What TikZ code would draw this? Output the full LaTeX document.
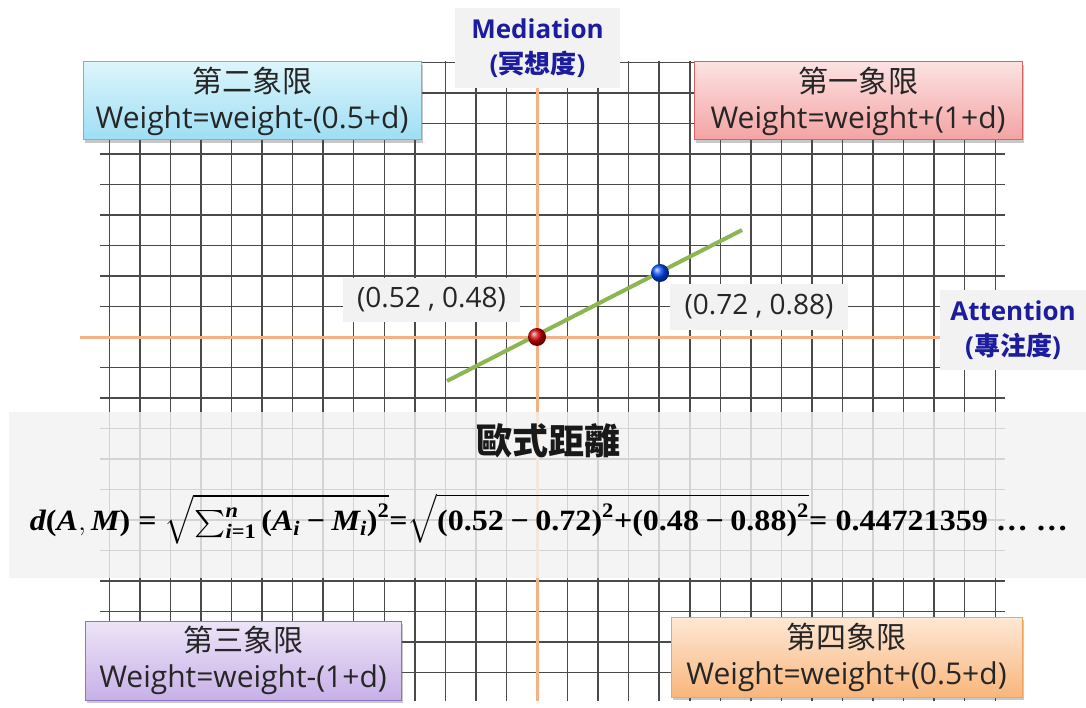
\documentclass[tikz,border=0pt]{standalone}
\usepackage{amsmath}
\usepackage{fontspec}
\setmainfont{Open Sans}
\newfontfamily\cjk{Noto Sans CJK TC}
\newfontfamily\fserif{Liberation Serif}
\usetikzlibrary{shadows}
\definecolor{gridc}{HTML}{4A4A4A}
\definecolor{axisc}{HTML}{F4B183}
\definecolor{greenc}{HTML}{8DB653}
\definecolor{navy}{HTML}{1C1C9E}
\definecolor{lgray}{HTML}{F2F2F2}
\definecolor{txt}{HTML}{262626}
\definecolor{qtwotop}{HTML}{DDF5FC}\definecolor{qtwobot}{HTML}{9EDEF4}\definecolor{qtwoline}{HTML}{5BBFDD}
\definecolor{qonetop}{HTML}{FCE2E2}\definecolor{qonebot}{HTML}{F4A3A3}\definecolor{qoneline}{HTML}{D9625F}
\definecolor{qthreetop}{HTML}{EDE4F8}\definecolor{qthreebot}{HTML}{C7B1E7}\definecolor{qthreeline}{HTML}{8F74C2}
\definecolor{qfourtop}{HTML}{FDE8D6}\definecolor{qfourbot}{HTML}{F9B67B}\definecolor{qfourline}{HTML}{F2A35E}
\newcommand{\bi}[1]{\text{\fserif\bfseries\itshape #1}}
\newcommand{\bn}[1]{\text{\fserif\bfseries #1}}
\newcommand{\bmin}{\mathbin{\bn{−}}}
\tikzset{
  gridline/.style={draw=gridc, line width=1.5pt},
  axisline/.style={draw=axisc, line width=3pt},
  quad/.style={draw, line width=1pt, inner sep=0pt, align=center, text=txt,
    font=\fontsize{30}{36}\selectfont,
    drop shadow={shadow xshift=2pt, shadow yshift=-3pt, opacity=0.3, fill=black!70}},
  axislabel/.style={fill=lgray, inner sep=0pt, align=center, text=navy,
    font=\fontsize{26}{35}\selectfont\bfseries},
  ptlabel/.style={fill=lgray, inner sep=0pt, text=txt, font=\fontsize{28}{30}\selectfont},
  pt/.style={circle, inner sep=0pt, minimum size=18pt}
}
\begin{document}
\begin{tikzpicture}[x=1pt,y=-1pt]
\useasboundingbox (0,0) rectangle (1086,708);
\fill[white] (0,0) rectangle (1086,708);
% grid
\foreach \k in {-14,...,15} \draw[gridline] ({537+30.55*\k},61) -- ({537+30.55*\k},701);
\foreach \j in {-9,...,11} \draw[gridline] (100,{337+30.5*\j}) -- (1005,{337+30.5*\j});
% axes
\coordinate (vtop) at (537,61);
\coordinate (vbot) at (537,701);
\coordinate (hleft) at (80,337);
\coordinate (hright) at (1000,337);
\draw[axisline] (vtop) -- (vbot);
\draw[axisline] (hleft) -- (hright);
% green line and points
\coordinate (gstart) at (447,381);
\coordinate (gend) at (742,230);
\draw[greenc, line width=4pt] (gstart) -- (gend);
\node[pt, ball color=red!85!black] (pa) at (537,337) {};
\node[pt, ball color=blue!70!cyan] (pm) at (660,273) {};
% point labels
\node[ptlabel, minimum width=177pt, minimum height=44pt] (la) at (431.5,300) {(0.52 , 0.48)};
\node[ptlabel, minimum width=178pt, minimum height=46pt] (lm) at (759,307) {(0.72 , 0.88)};
% axis labels
\node[axislabel, minimum width=165pt, minimum height=80pt] (med) at (537.5,48) {Mediation\\({\cjk\bfseries 冥想度})};
\node[axislabel, minimum width=146pt, minimum height=80pt] (att) at (1013,330) {Attention\\({\cjk\bfseries 專注度})};
% quadrant boxes
\node[quad, draw=qtwoline, top color=qtwotop, bottom color=qtwobot, minimum width=338pt, minimum height=78pt] (q2) at (252,101) {{\cjk 第二象限}\\Weight=weight-(0.5+d)};
\node[quad, draw=qoneline, top color=qonetop, bottom color=qonebot, minimum width=328pt, minimum height=78pt] (q1) at (858,101) {{\cjk 第一象限}\\Weight=weight+(1+d)};
\node[quad, draw=qthreeline, top color=qthreetop, bottom color=qthreebot, minimum width=316pt, minimum height=79pt] (q3) at (243,660.5) {{\cjk 第三象限}\\Weight=weight-(1+d)};
\node[quad, draw=qfourline, top color=qfourtop, bottom color=qfourbot, minimum width=351pt, minimum height=80pt] (q4) at (846.5,657) {{\cjk 第四象限}\\Weight=weight+(0.5+d)};
% formula band
\fill[lgray, opacity=0.82] (9,412) rectangle (1086,578);
\node[text=black!90, font=\cjk\bfseries\fontsize{36}{40}\selectfont] (title) at (548,441) {歐式距離};
\node[text=black, inner sep=0pt, font=\fontsize{27}{30}\selectfont] (formula) at (549,519) {\resizebox{1038pt}{37pt}{$\bi{d}\bn{(}\bi{A},\bi{M}\bn{)}\mathrel{\bn{=}}\sqrt{\textstyle\sum_{\bi{i}\bn{=1}}^{\bi{n}}\bn{(}\bi{A}_{\bi{i}}\bmin\bi{M}_{\bi{i}}\bn{)}^{\bn{2}}}\bn{=}\sqrt{\bn{(0.52}\bmin\bn{0.72)}^{\bn{2}}\bn{+}\bn{(0.48}\bmin\bn{0.88)}^{\bn{2}}}\bn{=}\ \bn{0.44721359 … …}$}};
\end{tikzpicture}
\end{document}
